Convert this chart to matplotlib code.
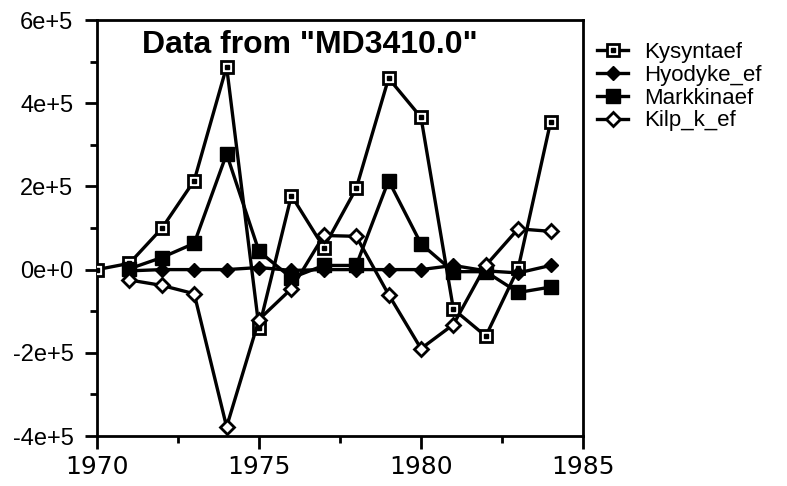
import numpy as np
import matplotlib
matplotlib.use('Agg')
import matplotlib.pyplot as plt
from matplotlib.ticker import MultipleLocator, FuncFormatter

plt.rcParams['font.family'] = ['Liberation Sans', 'DejaVu Sans']

years = np.arange(1970, 1985)
years_b = np.arange(1971, 1985)

kysyntaef = [0.0, 0.15e5, 0.99e5, 2.14e5, 4.88e5, -1.4e5, 1.78e5, 0.53e5,
             1.95e5, 4.6e5, 3.66e5, -0.95e5, -1.6e5, 0.03e5, 3.55e5]
hyodyke_ef = [-0.03e5, 0.0, 0.0, 0.0, 0.05e5, -0.02e5, 0.0, 0.0,
              0.0, 0.0, 0.1e5, -0.03e5, -0.08e5, 0.1e5]
markkinaef = [0.02e5, 0.29e5, 0.63e5, 2.78e5, 0.44e5, -0.2e5, 0.1e5, 0.1e5,
              2.14e5, 0.62e5, -0.05e5, -0.05e5, -0.55e5, -0.42e5]
kilp_k_ef = [-0.25e5, -0.38e5, -0.58e5, -3.78e5, -1.2e5, -0.46e5, 0.82e5, 0.8e5,
             -0.6e5, -1.9e5, -1.32e5, 0.1e5, 0.98e5, 0.92e5]

title = 'Data from "MD3410.0"'
names = ['Kysyntaef', 'Hyodyke_ef', 'Markkinaef', 'Kilp_k_ef']

fig = plt.figure(figsize=(7.87, 4.86), dpi=100)
ax = fig.add_axes([97/787, 1-436/486, 486/787, 416/486])

lw = 2.4
l1, = ax.plot(years, kysyntaef, color='black', lw=lw, marker='s', ms=9,
              mfc='white', mec='black', mew=2, zorder=3)
d1, = ax.plot(years, kysyntaef, ls='none', marker='s', ms=2.2, mfc='black',
              mec='black', zorder=4)
l2, = ax.plot(years_b, hyodyke_ef, color='black', lw=lw, marker='D', ms=7,
              mfc='black', mec='black', zorder=3)
l3, = ax.plot(years_b, markkinaef, color='black', lw=lw, marker='s', ms=9.5,
              mfc='black', mec='black', zorder=3)
l4, = ax.plot(years_b, kilp_k_ef, color='black', lw=lw, marker='D', ms=7,
              mfc='white', mec='black', mew=2, zorder=3)

ax.set_xlim(1970, 1985)
ax.set_ylim(-4e5, 6e5)
ax.xaxis.set_major_locator(MultipleLocator(5))
ax.xaxis.set_minor_locator(MultipleLocator(2.5))
ax.yaxis.set_major_locator(MultipleLocator(2e5))
ax.yaxis.set_minor_locator(MultipleLocator(1e5))

def sci(v, pos):
    if v == 0:
        return '0e+0'
    return '%de+5' % round(v / 1e5)

ax.yaxis.set_major_formatter(FuncFormatter(sci))
ax.tick_params(which='both', direction='out', width=2, top=False, right=False)
ax.tick_params(which='major', length=9)
ax.tick_params(which='minor', length=5)
ax.tick_params(axis='y', labelsize=17, pad=8)
ax.tick_params(axis='x', labelsize=18, pad=5)
for lab in ax.get_xticklabels():
    lab.set_family('DejaVu Sans')
for s in ax.spines.values():
    s.set_linewidth(2)

ax.text(0.438, 0.94, title, transform=ax.transAxes, ha='center', va='center',
        fontsize=23, fontweight='bold')

fig.legend([(l1, d1), l2, l3, l4], names,
           loc='upper left', bbox_to_anchor=(597/787, 1-42/486), frameon=False,
           fontsize=16, handlelength=1.4, handletextpad=0.7, labelspacing=0.08,
           borderaxespad=0, borderpad=0)

fig.savefig('out.png', dpi=100)
